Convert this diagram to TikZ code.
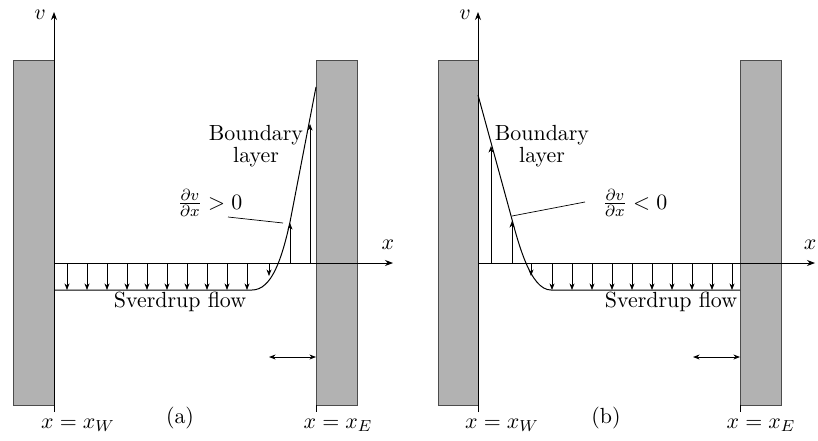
\documentclass[tikz,border=0pt]{standalone}
\usetikzlibrary{arrows.meta, positioning, calc}

\begin{document}
\begin{tikzpicture}[
    x=0.5pt, y=-0.5pt,
    wall/.style={draw=black!70, fill=black!30, line width=0.4pt},
    axis/.style={-{Stealth[length=4pt, width=3pt]}, line width=0.4pt},
    vel/.style={-{Stealth[length=3.3pt, width=2.5pt]}, line width=0.35pt},
    span/.style={{Stealth[length=3.3pt, width=2.5pt]}-{Stealth[length=3.3pt, width=2.5pt]}, line width=0.4pt},
    prof/.style={line width=0.5pt},
    lbl/.style={font=\fontsize{10.95}{9.5}\selectfont, align=center, inner sep=1pt}
  ]
    \useasboundingbox (0,0) rectangle (818,440);

    % Panel (a): walls and axes
    \draw[wall] (13,60) rectangle (54,405);
    \draw[wall] (316,60) rectangle (357,405);
    \draw (316,405) -- (316,412);
    \coordinate (a-o) at (54,263);
    \draw[axis] (54,412) -- (54,12);
    \draw[axis] (a-o) -- (393,263);
    \node[lbl] (a-v) at (40,15) {$v$};
    \node[lbl] (a-x) at (388,245) {$x$};

    % Panel (a): velocity profile
    \draw[prof] (54,290) -- (252,290) .. controls (272,290) and (282,258) .. (290,222) -- (316,87);
    \foreach \x in {67,87,...,247}
      \draw[vel] (\x,263) -- (\x,290);
    \draw[vel] (269,263) -- (269,276);
    \draw[vel] (290,263) -- (290,223);
    \draw[vel] (310,263) -- (310,124);
    \draw[span] (269,357) -- (316,357);

    % Panel (a): labels
    \node[lbl] (a-bl) at (256,146) {Boundary\\layer};
    \node[lbl] (a-dv) at (210,203) {$\frac{\partial v}{\partial x} > 0$};
    \coordinate (a-lead) at (228,217);
    \coordinate (a-tip) at (283,223);
    \draw[line width=0.35pt] (a-lead) -- (a-tip);
    \node[lbl] (a-sv) at (180,302) {Sverdrup flow};
    \node[lbl] (a-xw) at (78,425) {$x = x_W$};
    \node[lbl] (a-cap) at (180,418) {(a)};
    \node[lbl] (a-xe) at (338,425) {$x = x_E$};

    % Panel (b): walls and axes
    \draw[wall] (438,60) rectangle (478,405);
    \draw[wall] (740,60) rectangle (781,405);
    \draw (740,405) -- (740,412);
    \coordinate (b-o) at (478,263);
    \draw[axis] (478,412) -- (478,12);
    \draw[axis] (b-o) -- (815,263);
    \node[lbl] (b-v) at (465,15) {$v$};
    \node[lbl] (b-x) at (810,245) {$x$};

    % Panel (b): velocity profile
    \draw[prof] (478,95) -- (510,212) .. controls (518,242) and (530,290) .. (551,290) -- (740,290);
    \foreach \x in {552,572,...,734}
      \draw[vel] (\x,263) -- (\x,290);
    \draw[vel] (531,263) -- (531,276);
    \draw[vel] (491,263) -- (491,146);
    \draw[vel] (512,263) -- (512,221);
    \draw[span] (693,357) -- (740,357);

    % Panel (b): labels
    \node[lbl] (b-bl) at (542,146) {Boundary\\layer};
    \node[lbl] (b-dv) at (635,203) {$\frac{\partial v}{\partial x} < 0$};
    \coordinate (b-lead) at (585,202);
    \coordinate (b-tip) at (512,216);
    \draw[line width=0.35pt] (b-lead) -- (b-tip);
    \node[lbl] (b-sv) at (671,302) {Sverdrup flow};
    \node[lbl] (b-xw) at (502,425) {$x = x_W$};
    \node[lbl] (b-cap) at (606,418) {(b)};
    \node[lbl] (b-xe) at (761,425) {$x = x_E$};
\end{tikzpicture}
\end{document}
